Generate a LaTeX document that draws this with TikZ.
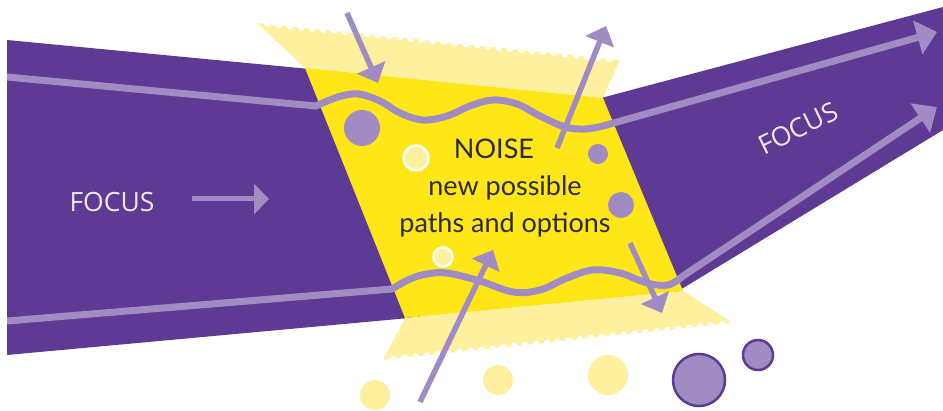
\documentclass[tikz,border=0pt]{standalone}
\usepackage{fontspec}
\setmainfont{Lato}
\newfontfamily\focusfont{Open Sans}
\usepackage{tikz}
\usetikzlibrary{positioning, arrows.meta, calc}

\definecolor{bandpurple}{HTML}{5E3A95}
\definecolor{linepurple}{HTML}{A08CC3}
\definecolor{noiseyellow}{HTML}{FFE617}
\definecolor{flapyellow}{HTML}{FEF09E}
\definecolor{focuswhite}{HTML}{EEE9F6}
\definecolor{textgray}{HTML}{2E2A25}

\begin{document}
\begin{tikzpicture}[x=1pt, y=-1pt,
    pathline/.style={draw=linepurple, line width=7pt, -{Triangle[length=20pt, width=34pt]}},
    noisearrow/.style={draw=linepurple, line width=5.5pt, -{Triangle[length=17pt, width=30pt]}},
    focuslabel/.style={text=focuswhite, font=\focusfont\fontsize{26.5}{30}\selectfont},
    dot/.style={fill=linepurple},
    spark/.style={fill=flapyellow, draw=white, line width=2.5pt},
    pebble/.style={fill=flapyellow},
    bubble/.style={fill=linepurple, draw=bandpurple, line width=2.5pt}]

    \useasboundingbox (0,0) rectangle (943,411);

    % Purple focus bands, left and right
    \fill[bandpurple] (7,40) -- (320,70) -- (420,317) -- (7,355) -- cycle;
    \fill[bandpurple] (590,101) -- (943,7) -- (943,130) -- (675,293) -- cycle;

    % Pale flaps above and below the noise field
    \coordinate (topa) at (257,23);
    \coordinate (topb) at (620,60);
    \coordinate (bota) at (383,360);
    \coordinate (botb) at (733,323);
    \fill[flapyellow] (topa) -- (topb) -- (603,98) -- (305,68) -- cycle;
    \fill[flapyellow] (405,318) -- (683,291) -- (botb) -- (bota) -- cycle;

    % Torn edges
    \foreach \i in {1,...,32} {
        \fill[white] ($(topa)!\i/33!(topb)$) circle (3.3pt);
        \fill[white] ($(bota)!\i/32!(botb)$) circle (3.3pt);
    }

    % The noise field
    \fill[noiseyellow] (305,68) -- (603,98) -- (683,291) -- (405,318) -- cycle;

    % Paths through the noise
    \coordinate (upstart) at (7,77);
    \coordinate (upend) at (937,32);
    \coordinate (lowstart) at (7,321);
    \coordinate (lowend) at (937,107);
    \draw[pathline] (upstart) -- (316,106) -- plot[smooth, tension=0.6] coordinates {(316,106) (338,97) (358,94) (380,101) (400,113) (423,120) (447,116) (470,106) (493,100) (517,104) (540,116) (565,127) (585,129) (603,126)} -- (upend);
    \draw[pathline] (lowstart) -- (392,289) -- plot[smooth, tension=0.6] coordinates {(392,289) (410,279) (427,274) (447,273) (480,281) (513,292) (540,290) (567,278) (593,270) (620,273) (647,283) (668,285) (683,276)} -- (lowend);

    % Dots inside the field
    \fill[dot] (362,128) circle (18pt);
    \fill[dot] (598,154) circle (10pt);
    \fill[dot] (621,205) circle (13pt);
    \draw[spark] (416,158) circle (12.5pt);
    \draw[spark] (443,257) circle (9.5pt);

    % Dots below
    \fill[pebble] (375,395) circle (15pt);
    \fill[pebble] (498,380) circle (15pt);
    \fill[pebble] (608,375) circle (20pt);
    \draw[bubble] (699,380) circle (26pt);
    \draw[bubble] (758,355) circle (15pt);

    % Arrows going in and out of the field
    \coordinate (ina) at (347,13);
    \coordinate (inb) at (378,83);
    \coordinate (outa) at (557,148);
    \coordinate (outb) at (606,26);
    \coordinate (risea) at (420,402);
    \coordinate (riseb) at (493,250);
    \coordinate (dropa) at (630,243);
    \coordinate (dropb) at (662,313);
    \draw[noisearrow] (ina) -- (inb);
    \draw[noisearrow] (outa) -- (outb);
    \draw[noisearrow] (risea) -- (riseb);
    \draw[noisearrow] (dropa) -- (dropb);

    % Labels
    \node[focuslabel] (focusin) at (112,202) {FOCUS};
    \coordinate (goa) at (192,199);
    \coordinate (gob) at (269,199);
    \draw[draw=linepurple, line width=5pt, -{Triangle[length=15pt, width=30pt]}] (goa) -- (gob);
    \node[focuslabel, rotate=26] (focusout) at (798,128) {FOCUS};
    \node[text=textgray, align=center, font=\fontsize{27}{37}\selectfont] (noise) at (505,188)
        {NOISE\hspace*{22pt}\\new possible\\paths and options};

\end{tikzpicture}
\end{document}
